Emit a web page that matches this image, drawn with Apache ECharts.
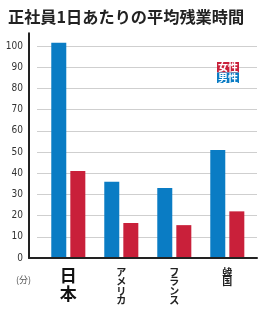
<!DOCTYPE html>
<html>
<head>
<meta charset="utf-8">
<style>
  html, body { margin: 0; padding: 0; background: #fff; }
  #chart { width: 260px; height: 310px; }
</style>
<script src="https://cdn.jsdelivr.net/npm/echarts@6/dist/echarts.min.js"></script>
</head>
<body>
<div id="chart"></div>
<script>
const countries = ['日本', 'アメリカ', 'フランス', '韓国']
const maleValues = [101.5, 36, 33, 51]
const femaleValues = [41, 16.5, 15.5, 22]
const yTicks = [0, 10, 20, 30, 40, 50, 60, 70, 80, 90, 100]

const BLUE = '#0a7cc4'
const RED = '#c9203a'
const JP = '"Noto Sans CJK JP", "Noto Sans", sans-serif'

// baseline sits at y=258, 2.12px per minute
const bottom = 52
const topGrid = 258 - 212       // 100 line
const topAxis = 258 - 106 * 2.12 // axis runs a bit above 100

const chart = echarts.init(document.getElementById('chart'))

chart.setOption({
  animation: false,
  title: [
    {
      text: '正社員1日あたりの平均残業時間',
      left: 3,
      top: 4,
      textStyle: { fontFamily: JP, fontSize: 16.2, fontWeight: 'bold', color: '#222' }
    },
    {
      text: '(分)',
      left: 11,
      top: 270,
      textStyle: { fontFamily: JP, fontSize: 9, fontWeight: 'normal', color: '#555' }
    }
  ],
  legend: {
    orient: 'vertical',
    right: 16,
    top: 57,
    itemGap: 0,
    itemWidth: 0,
    itemHeight: 0,
    icon: 'none',
    selectedMode: false,
    data: [
      { name: '女性', textStyle: { backgroundColor: RED } },
      { name: '男性', textStyle: { backgroundColor: BLUE } }
    ],
    textStyle: {
      fontFamily: JP, fontSize: 10, fontWeight: 'bold', color: '#fff',
      padding: [0, 1, 0, 1], lineHeight: 10.5
    }
  },
  grid: [
    // axis lines
    { left: 29, right: 3, top: topAxis, bottom: bottom },
    // gridlines + labels
    { left: 37, right: 3, top: topGrid, bottom: bottom },
    // bars
    { left: 41.8, width: 212, top: topAxis, bottom: bottom }
  ],
  xAxis: [
    {
      gridIndex: 0, type: 'value', min: 0, max: 1, z: 5,
      axisLine: { show: true, lineStyle: { color: '#222', width: 2 } },
      axisTick: { show: false }, axisLabel: { show: false }, splitLine: { show: false }
    },
    {
      gridIndex: 1, type: 'value', min: 0, max: 1,
      axisLine: { show: false }, axisTick: { show: false },
      axisLabel: { show: false }, splitLine: { show: false }
    },
    {
      gridIndex: 2, type: 'category', data: countries,
      axisLine: { show: false }, axisTick: { show: false },
      axisLabel: {
        interval: 0,
        margin: 9,
        formatter: v => v === '日本'
          ? '{big|' + v.split('').join('\n') + '}'
          : '{sm|' + v.split('').join('\n') + '}',
        rich: {
          big: { fontFamily: JP, fontSize: 17, fontWeight: 'bold', lineHeight: 17.5, color: '#111' },
          sm: { fontFamily: JP, fontSize: 10, fontWeight: 'bold', lineHeight: 9.6, color: '#222' }
        }
      }
    }
  ],
  yAxis: [
    {
      gridIndex: 0, type: 'value', min: 0, max: 106, z: 5,
      axisLine: { show: true, lineStyle: { color: '#222', width: 2 } },
      axisTick: { show: false }, axisLabel: { show: false }, splitLine: { show: false }
    },
    {
      gridIndex: 1, type: 'value', min: 0, max: 100, interval: 10,
      axisLine: { show: false }, axisTick: { show: false },
      axisLabel: {
        margin: 14,
        formatter: v => yTicks.includes(v) ? String(v) : '',
        fontFamily: '"DejaVu Sans Condensed", "Liberation Sans Narrow", sans-serif',
        fontSize: 10,
        color: '#333'
      },
      splitLine: { show: true, lineStyle: { color: '#cfcfcf', width: 1 } }
    },
    {
      gridIndex: 2, type: 'value', min: 0, max: 106, show: false
    }
  ],
  series: [
    {
      name: '男性', type: 'bar', xAxisIndex: 2, yAxisIndex: 2,
      data: maleValues, barWidth: 15, barGap: '27%',
      itemStyle: { color: BLUE }
    },
    {
      name: '女性', type: 'bar', xAxisIndex: 2, yAxisIndex: 2,
      data: femaleValues, barWidth: 15, barGap: '27%',
      itemStyle: { color: RED }
    }
  ]
})
</script>
</body>
</html>
